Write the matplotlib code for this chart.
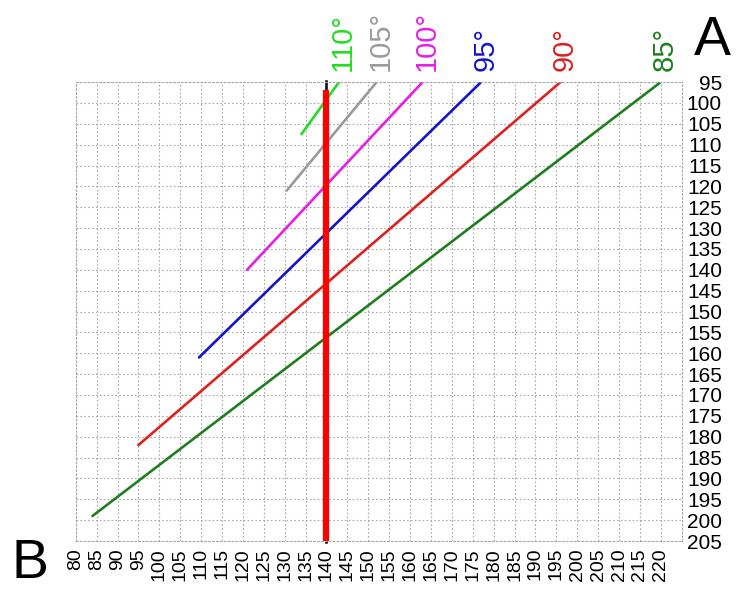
import matplotlib
matplotlib.use("Agg")
import matplotlib.pyplot as plt

plt.rcParams['font.family'] = ['Liberation Sans', 'DejaVu Sans']

# angle lines: label, colour, start (x, y), end (x, y)
angle_labels = ['85°', '90°', '95°', '100°', '105°', '110°']
line_colors = ['#1f7f1f', '#dd2020', '#1515c8', '#e81ee8', '#9a9a9a', '#22dd22']
start_x = [84, 95, 109.5, 121, 130.5, 134]
start_y = [199, 182, 161, 140, 121, 107.5]
end_x = [220, 196, 177, 163, 152, 143]
end_y = [95, 95, 95, 95, 95, 95]

# marker line at x = 140
marker_x = 140
marker_top = 96.8
marker_bottom = 205

x_ticks = list(range(80, 221, 5))
y_ticks = list(range(95, 206, 5))

fig = plt.figure(figsize=(7.41, 5.92), dpi=100)
ax = fig.add_axes([0.1022, 0.0861, 0.8178, 0.7753])

ax.set_xlim(80, 225)
ax.set_ylim(205, 95)
ax.set_xticks(x_ticks)
ax.set_xticklabels([str(v) for v in x_ticks], rotation=90, fontsize=14)
ax.set_yticks(y_ticks)
ax.yaxis.tick_right()
ax.set_yticklabels([str(v) for v in y_ticks], fontsize=15, ha='right')
ax.tick_params(axis='y', length=0, pad=29)
ax.tick_params(axis='x', length=0, pad=5)

ax.grid(True, color='#a8a8a8', linestyle=(0, (1.5, 2)), linewidth=0.8)
for sp in ax.spines.values():
    sp.set_color('#a8a8a8')
    sp.set_linestyle((0, (1.5, 2)))
    sp.set_linewidth(0.8)

for i in range(len(angle_labels)):
    ax.plot([start_x[i], end_x[i]], [start_y[i], end_y[i]],
            color=line_colors[i], linewidth=1.9, solid_capstyle='round')
    ax.annotate(angle_labels[i], xy=(end_x[i], end_y[i]), xytext=(3, 8),
                textcoords='offset points', rotation=90, ha='center',
                va='bottom', fontsize=21, color=line_colors[i],
                annotation_clip=False)

ax.plot([marker_x, marker_x], [marker_top - 2.1, marker_bottom + 0.3],
        color='black', linewidth=1.8, clip_on=False)
ax.plot([marker_x, marker_x], [marker_top, marker_bottom],
        color='red', linewidth=4.5, solid_capstyle='butt', clip_on=False)

fig.text(712 / 741, 1 - 55 / 592, 'A', ha='center', va='baseline', fontsize=40)
fig.text(30 / 741, 0.003, 'B', ha='center', va='bottom', fontsize=40)

fig.savefig('out.png', dpi=100)
